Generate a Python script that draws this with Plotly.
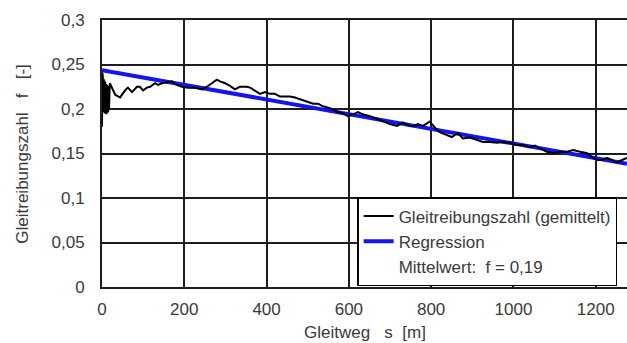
import plotly.graph_objects as go

# Gleitweg s [m] and averaged sliding friction coefficient f [-]
s_values = [0, 1, 2, 3, 4, 5, 6, 7, 8, 9, 10, 11, 12, 13, 14, 15, 16, 17, 19,
            32, 44, 56, 63, 73, 85, 92, 100, 109, 117, 129, 136, 146, 158, 170,
            182, 194, 209, 226, 243, 255, 267, 279, 287, 299, 311, 323, 335, 352,
            360, 372, 384, 396, 408, 420, 433, 445, 457, 469, 481, 498, 513, 525,
            537, 554, 571, 586, 598, 610, 622, 634, 651, 668, 683, 700, 717, 731,
            748, 756, 768, 780, 797, 809, 821, 838, 850, 865, 877, 894, 911, 926,
            943, 960, 974, 991, 1008, 1023, 1040, 1052, 1064, 1081, 1096, 1113,
            1130, 1145, 1162, 1179, 1191, 1203, 1215, 1227, 1239, 1251, 1264, 1276]
f_values = [0.180, 0.241, 0.236, 0.196, 0.234, 0.199, 0.232, 0.195, 0.230, 0.197,
            0.228, 0.194, 0.227, 0.197, 0.226, 0.196, 0.225, 0.199, 0.229,
            0.216, 0.213, 0.221, 0.224, 0.219, 0.225, 0.225, 0.221, 0.224, 0.225,
            0.229, 0.227, 0.229, 0.230, 0.231, 0.227, 0.225, 0.224, 0.224, 0.222,
            0.225, 0.229, 0.233, 0.231, 0.229, 0.226, 0.222, 0.225, 0.225, 0.224,
            0.220, 0.217, 0.219, 0.217, 0.217, 0.214, 0.214, 0.214, 0.213, 0.211,
            0.209, 0.206, 0.206, 0.203, 0.201, 0.197, 0.195, 0.192, 0.194,
            0.1965, 0.194, 0.192, 0.189, 0.186, 0.183, 0.181, 0.185, 0.181, 0.181,
            0.183, 0.181, 0.186, 0.179, 0.174, 0.171, 0.1685, 0.173, 0.167, 0.168,
            0.165, 0.163, 0.163, 0.162, 0.163, 0.162, 0.1595, 0.1595, 0.157, 0.159,
            0.156, 0.152, 0.1505, 0.152, 0.152, 0.154, 0.152, 0.1505, 0.146, 0.1427,
            0.1427, 0.145, 0.1427, 0.140, 0.1427, 0.145]

# Regression line end points
reg_s = [0, 1276]
reg_f = [0.2437, 0.1384]

x_ticks = [0, 200, 400, 600, 800, 1000, 1200]
x_ticktext = ["0", "200", "400", "600", "800", "1000", "1200"]
y_ticks = [0, 0.05, 0.1, 0.15, 0.2, 0.25, 0.3]
y_ticktext = ["0", "0,05", "0,1", "0,15", "0,2", "0,25", "0,3"]

NB = "\u00a0"
FONT = "Liberation Sans, Arial, sans-serif"
TXT = "#3a3a3a"
GRID = "#1e1e1e"

fig = go.Figure()
fig.add_trace(go.Scatter(x=reg_s, y=reg_f, mode="lines", name="Regression",
                         line=dict(color="#1414ee", width=4), legendrank=2))
fig.add_trace(go.Scatter(x=s_values, y=f_values, mode="lines",
                         name="Gleitreibungszahl (gemittelt)",
                         line=dict(color="black", width=2), legendrank=1))
fig.add_trace(go.Scatter(x=[None], y=[None], mode="lines",
                         name=f"Mittelwert:{NB} f = 0,19",
                         line=dict(color="rgba(0,0,0,0)", width=1), legendrank=3))

fig.update_layout(
    width=627, height=343,
    margin=dict(l=102, r=0, t=20, b=56, autoexpand=False),
    paper_bgcolor="white", plot_bgcolor="white",
    font=dict(family=FONT, size=17, color=TXT),
    showlegend=True,
    legend=dict(x=0.486, y=0.337, xanchor="left", yanchor="top",
                bgcolor="white", bordercolor="black", borderwidth=1.5,
                font=dict(size=17, color=TXT), itemwidth=30,
                tracegroupgap=0),
    xaxis=dict(range=[0, 1276], tickvals=x_ticks, ticktext=x_ticktext,
               showgrid=True, gridcolor=GRID, gridwidth=1.5,
               showline=True, linecolor=GRID, linewidth=2, mirror=True,
               zeroline=False, ticks="", ticklabelstandoff=6),
    yaxis=dict(range=[0, 0.3], tickvals=y_ticks, ticktext=y_ticktext,
               showgrid=True, gridcolor=GRID, gridwidth=1.5,
               showline=True, linecolor=GRID, linewidth=2,
               zeroline=False, ticks="", ticklabelstandoff=12),
    annotations=[
        dict(text=f"Gleitweg{NB}{NB}{NB}s{NB}{NB}[m]", xref="paper", yref="paper",
             x=0.5, y=-0.172, xanchor="center", yanchor="middle",
             showarrow=False, font=dict(size=17, color=TXT)),
        dict(text=f"Gleitreibungszahl{NB}{NB}{NB}f{NB}{NB}{NB}[-]", xref="paper", yref="paper",
             x=-0.152, y=0.5, xanchor="center", yanchor="middle", textangle=-90,
             showarrow=False, font=dict(size=17, color=TXT)),
    ],
)

fig.write_html("out.html")
